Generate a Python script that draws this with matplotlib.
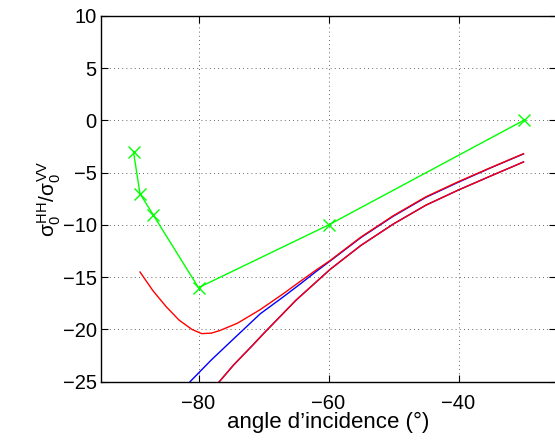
import matplotlib
matplotlib.use('Agg')
import matplotlib.pyplot as plt
import numpy as np

# mesure (croix vertes)
meas_angle = [-90, -89, -87, -80, -60, -30]
meas_ratio = [-3, -7, -9, -16, -10, 0]

# modele 1 (rouge, haut) - diverge aux grands angles
red_up_angle = [-89, -87, -85, -83, -81, -79.5, -78, -76.7, -74, -70.5, -67, -64.35,
                -62, -59.75, -55, -50, -45, -40, -35, -30]
red_up_ratio = [-14.5, -16.3, -17.8, -19.1, -20.0, -20.4, -20.35, -20.1, -19.4, -18.1,
                -16.6, -15.4, -14.35, -13.4, -11.15, -9.1, -7.3, -5.85, -4.5, -3.18]

# modele 1 (bleu) - confondu avec le rouge au dessus de -62
blue_up_angle = [-81.3, -78, -74.6, -70.5, -67, -64.35, -62, -59.75,
                 -55, -50, -45, -40, -35, -30]
blue_up_ratio = [-25, -22.9, -20.9, -18.5, -16.9, -15.65, -14.5, -13.45,
                 -11.2, -9.15, -7.35, -5.9, -4.52, -3.2]

# modele 2 (bleu et rouge superposes)
low_angle = [-76.8, -74.6, -71.5, -70, -65, -59.75, -55, -50, -45, -40, -35, -30]
low_ratio = [-25, -23.4, -21.4, -20.4, -17.2, -14.25, -11.95, -9.9,
             -8.1, -6.65, -5.3, -3.97]

plt.rcParams['font.family'] = ['Liberation Sans', 'DejaVu Sans']
plt.rcParams['mathtext.fontset'] = 'custom'
plt.rcParams['mathtext.rm'] = 'Liberation Sans'
plt.rcParams['mathtext.it'] = 'Liberation Sans'
plt.rcParams['mathtext.bf'] = 'Liberation Sans:bold'

fig = plt.figure(figsize=(5.55, 4.43), dpi=100)
ax = fig.add_axes([101 / 555, 1 - 381.7 / 443, 455 / 555, 365.7 / 443])

ax.plot(blue_up_angle, blue_up_ratio, color='blue', lw=1.0)
ax.plot(low_angle, low_ratio, color='blue', lw=1.0)
ax.plot(red_up_angle, red_up_ratio, color='red', lw=1.0)
ax.plot(low_angle, low_ratio, color='red', lw=1.0)
ax.plot(meas_angle, meas_ratio, color=(0, 1, 0), lw=1.0, marker='x',
        markersize=8, markeredgewidth=1.0)

ax.set_xlim(-95, -25)
ax.set_ylim(-25, 10)
ax.set_xticks([-80, -60, -40])
ax.set_yticks(np.arange(-25, 11, 5))
ax.grid(True, linestyle=(0, (1, 4)), color='black', lw=0.6, alpha=0.8)
ax.tick_params(direction='in', labelsize=14.5, top=True, right=True, length=5, width=0.8)
ax.tick_params(axis='x', pad=9)
ax.tick_params(axis='y', pad=3)
for s in ax.spines.values():
    s.set_linewidth(1.0)

ax.set_xlabel("angle d\u2019incidence (\u00b0)", fontsize=16, labelpad=-1)
ax.set_ylabel(r'$\sigma_0^{HH}/\sigma_0^{VV}$', fontsize=15, labelpad=0)

fig.savefig('out.png', dpi=100)
